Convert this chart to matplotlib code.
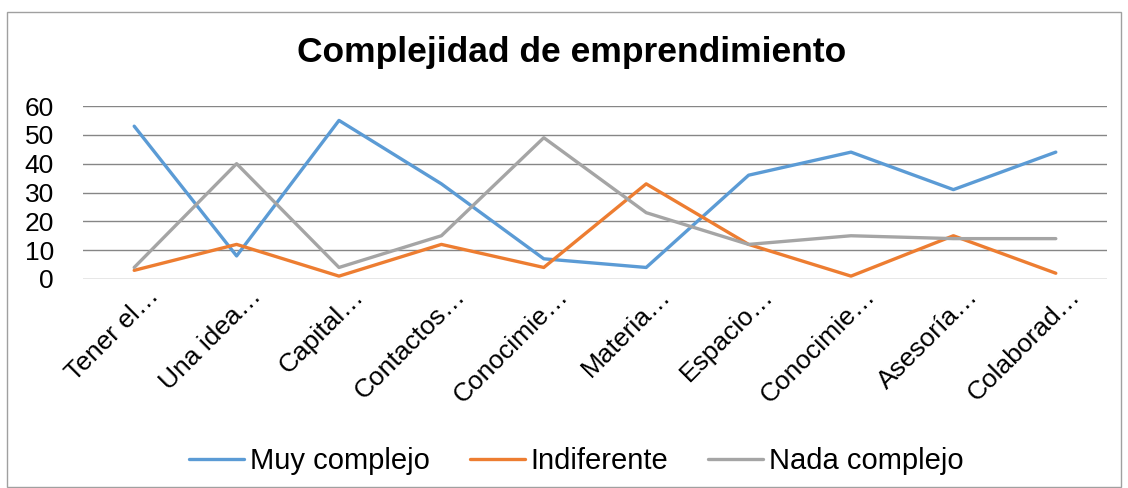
import matplotlib.pyplot as plt
from matplotlib.patches import Rectangle
from matplotlib.transforms import ScaledTranslation

plt.rcParams['font.family'] = ['Liberation Sans', 'DejaVu Sans']

categorias = ["Tener el…", "Una idea…", "Capital…", "Contactos…", "Conocimie…",
              "Materia…", "Espacio…", "Conocimie…", "Asesoría…", "Colaborad…"]
muy_complejo = [53, 8, 55, 33, 7, 4, 36, 44, 31, 44]
indiferente = [3, 12, 1, 12, 4, 33, 12, 1, 15, 2]
nada_complejo = [4, 40, 4, 15, 49, 23, 12, 15, 14, 14]

fig = plt.figure(figsize=(11.28, 4.88), dpi=100)
ax = fig.add_axes([83/1128, 1 - 279/488, 1024/1128, 173/488])

x = range(len(categorias))
ax.plot(x, muy_complejo, color="#5B9BD5", lw=2.4, label="Muy complejo", solid_capstyle="round")
ax.plot(x, indiferente, color="#ED7D31", lw=2.4, label="Indiferente", solid_capstyle="round")
ax.plot(x, nada_complejo, color="#A5A5A5", lw=2.4, label="Nada complejo", solid_capstyle="round")

ax.set_xlim(-0.5, len(categorias) - 0.5)
ax.set_ylim(0, 60)
ax.set_yticks(range(0, 61, 10))
ax.yaxis.grid(True, color="#868686", lw=1)
ax.set_axisbelow(True)
for s in ax.spines.values():
    s.set_visible(False)
ax.tick_params(length=0, labelsize=19)
ax.tick_params(axis='y', pad=21)
ax.set_xticks(list(x))
ax.set_xticklabels(categorias, rotation=45, ha="right", rotation_mode="anchor")
shift = ScaledTranslation(0.12, 0.0, fig.dpi_scale_trans)
for lab in ax.get_xticklabels():
    lab.set_transform(lab.get_transform() + shift)

fig.text(0.507, 0.892, "Complejidad de emprendimiento", ha="center", va="center",
         fontsize=25.5, fontweight="bold")

fig.legend(loc="center", bbox_to_anchor=(0.511, 0.055), ncol=3, frameon=False,
           fontsize=21, handlelength=1.9, handletextpad=0.2, columnspacing=1.35)

fig.patches.append(Rectangle((7/1128, 1/488), 1114/1128, 475/488, transform=fig.transFigure,
                             fill=False, edgecolor="#A0A0A0", lw=1))

fig.savefig("out.png", dpi=100)
